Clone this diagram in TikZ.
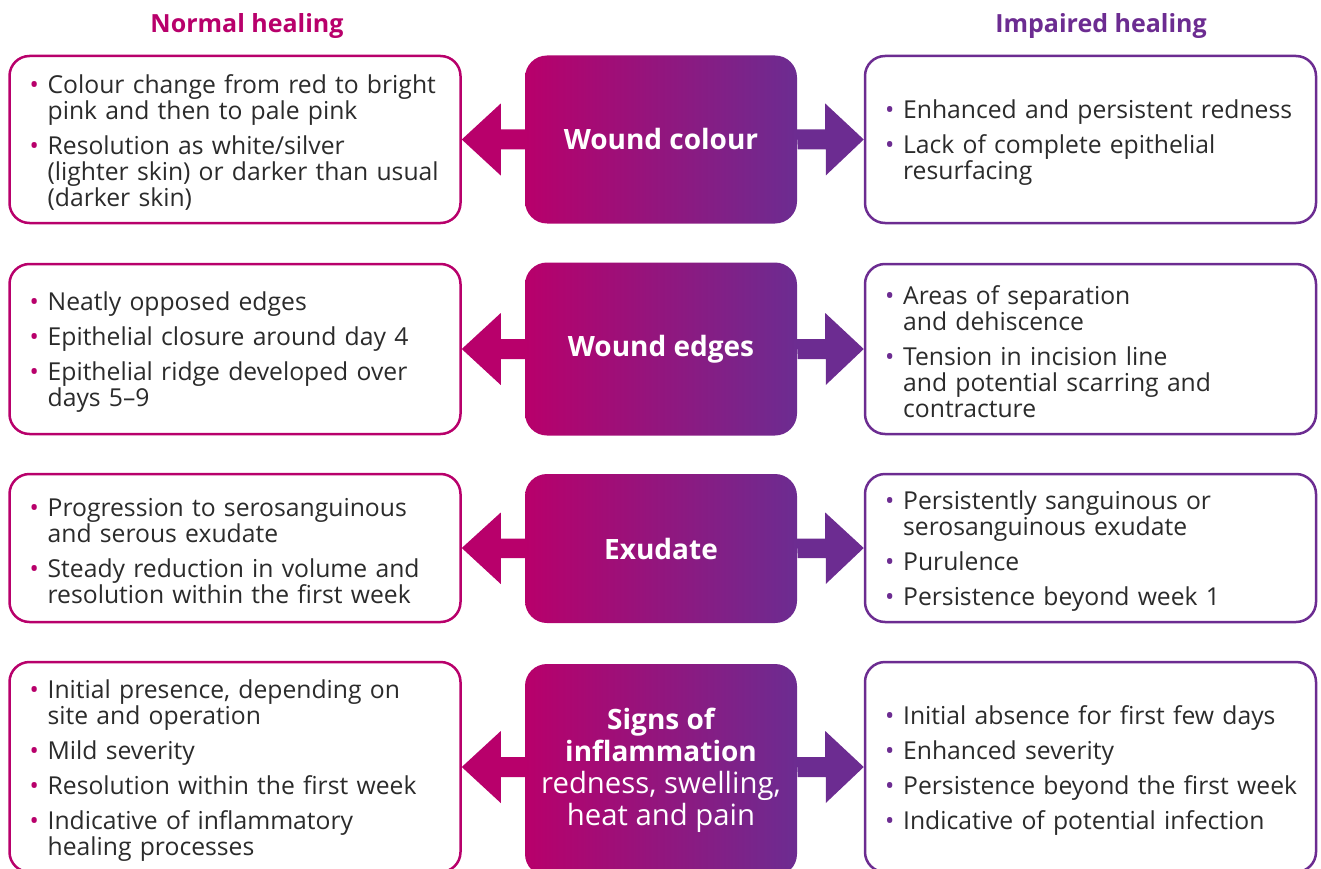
\documentclass[tikz,border=0pt]{standalone}
\usepackage{fontspec}
\setmainfont{Open Sans}
\usetikzlibrary{calc}
\definecolor{pinkc}{HTML}{B8006B}
\definecolor{purpc}{HTML}{6C2C91}
\definecolor{txtc}{HTML}{2B2B2B}
\newcommand{\bc}{pinkc}
\newcommand{\itm}[1]{\par\hangindent=18pt\hangafter=1\noindent\makebox[18pt][l]{\textcolor{\bc}{•}}#1\par}
\tikzset{
  sidebox/.style={draw, line width=2.5pt, rounded corners=20pt, fill=white, minimum width=451pt},
  lbox/.style={sidebox, draw=pinkc},
  rbox/.style={sidebox, draw=purpc},
  btext/.style={anchor=west, inner sep=0pt, text width=428pt, align=left, text=txtc, font=\fontsize{24.7}{26}\selectfont},
  cbox/.style={rounded corners=22pt, left color=pinkc, right color=purpc, minimum width=272pt, text=white, align=center, font=\fontsize{28}{32}\selectfont\bfseries},
  hdr/.style={font=\fontsize{25}{28}\selectfont\bfseries},
}
\begin{document}
\begin{tikzpicture}[x=1pt,y=-1pt]
\useasboundingbox (0,0) rectangle (1321,869);
\clip (0,0) rectangle (1321,869);
\node[hdr, text=pinkc] (h1) at (247,26) {Normal healing};
\node[hdr, text=purpc] (h2) at (1101,26) {Impaired healing};

% row 1
\node[cbox, minimum height=168pt] (c1) at (661,139.5) {Wound colour};
\node[lbox, minimum height=167pt] (l1) at (235,139.5) {};
\node[btext] (l1t) at ($(l1.west)+(21.2,-5)$) {\parskip=9pt\renewcommand{\bc}{pinkc}%
\itm{Colour change from red to bright\newline pink and then to pale pink}
\itm{Resolution as white/silver\newline (lighter skin) or darker than usual\newline (darker skin)}};
\node[rbox, minimum height=167pt] (r1) at (1090.5,139.5) {};
\node[btext] (r1t) at ($(r1.west)+(21.2,-5)$) {\parskip=9pt\renewcommand{\bc}{purpc}%
\itm{Enhanced and persistent redness}
\itm{Lack of complete epithelial\newline resurfacing}};

% row 2
\node[cbox, minimum height=173pt] (c2) at (661,349) {Wound edges};
\node[lbox, minimum height=170pt] (l2) at (235,349) {};
\node[btext] (l2t) at ($(l2.west)+(21.2,-5)$) {\parskip=9pt\renewcommand{\bc}{pinkc}%
\itm{Neatly opposed edges}
\itm{Epithelial closure around day 4}
\itm{Epithelial ridge developed over\newline days 5–9}};
\node[rbox, minimum height=170pt] (r2) at (1090.5,349) {};
\node[btext] (r2t) at ($(r2.west)+(21.2,-5)$) {\parskip=9pt\renewcommand{\bc}{purpc}%
\itm{Areas of separation\newline and dehiscence}
\itm{Tension in incision line\newline and potential scarring and\newline contracture}};

% row 3
\node[cbox, minimum height=149pt] (c3) at (661,548.5) {Exudate};
\node[lbox, minimum height=148pt] (l3) at (235,548) {};
\node[btext] (l3t) at ($(l3.west)+(21.2,-5)$) {\parskip=9pt\renewcommand{\bc}{pinkc}%
\itm{Progression to serosanguinous\newline and serous exudate}
\itm{Steady reduction in volume and\newline resolution within the first week}};
\node[rbox, minimum height=148pt] (r3) at (1090.5,548) {};
\node[btext] (r3t) at ($(r3.west)+(21.2,-5)$) {\parskip=9pt\renewcommand{\bc}{purpc}%
\itm{Persistently sanguinous or\newline serosanguinous exudate}
\itm{Purulence}
\itm{Persistence beyond week 1}};

% row 4
\node[cbox, minimum height=212pt] (c4) at (661,770) {Signs of\\inflammation\\{\mdseries\fontsize{29.3}{32}\selectfont redness, swelling,}\\{\mdseries\fontsize{29.3}{32}\selectfont heat and pain}};
\node[lbox, minimum height=210pt] (l4) at (235,767) {};
\node[btext] (l4t) at ($(l4.west)+(21.2,-5)$) {\parskip=9pt\renewcommand{\bc}{pinkc}%
\itm{Initial presence, depending on\newline site and operation}
\itm{Mild severity}
\itm{Resolution within the first week}
\itm{Indicative of inflammatory\newline healing processes}};
\node[rbox, minimum height=210pt] (r4) at (1090.5,767) {};
\node[btext] (r4t) at ($(r4.west)+(21.2,-5)$) {\parskip=9pt\renewcommand{\bc}{purpc}%
\itm{Initial absence for first few days}
\itm{Enhanced severity}
\itm{Persistence beyond the first week}
\itm{Indicative of potential infection}};

% block arrows
\foreach \i in {1,2,3}{
  \fill[pinkc] (c\i.west) ++(0.5,-10) -- ++(-24.5,0) -- ++(0,-26) -- (l\i.east) -- ++(39,36) -- ++(0,-26) -- ++(24,0) -- cycle;
  \fill[purpc] (c\i.east) ++(-0.5,-10) -- ++(28.5,0) -- ++(0,-26) -- (r\i.west) -- ++(-38,36) -- ++(0,-26) -- ++(-28,0) -- cycle;
}
\fill[pinkc] (l4.east) coordinate (t4l) (c4.west |- t4l) ++(0.5,-10) -- ++(-24.5,0) -- ++(0,-26) -- (t4l) -- ++(39,36) -- ++(0,-26) -- ++(24,0) -- cycle;
\fill[purpc] (r4.west) coordinate (t4r) (c4.east |- t4r) ++(-0.5,-10) -- ++(28.5,0) -- ++(0,-26) -- (t4r) -- ++(-38,36) -- ++(0,-26) -- ++(-28,0) -- cycle;
\end{tikzpicture}
\end{document}
